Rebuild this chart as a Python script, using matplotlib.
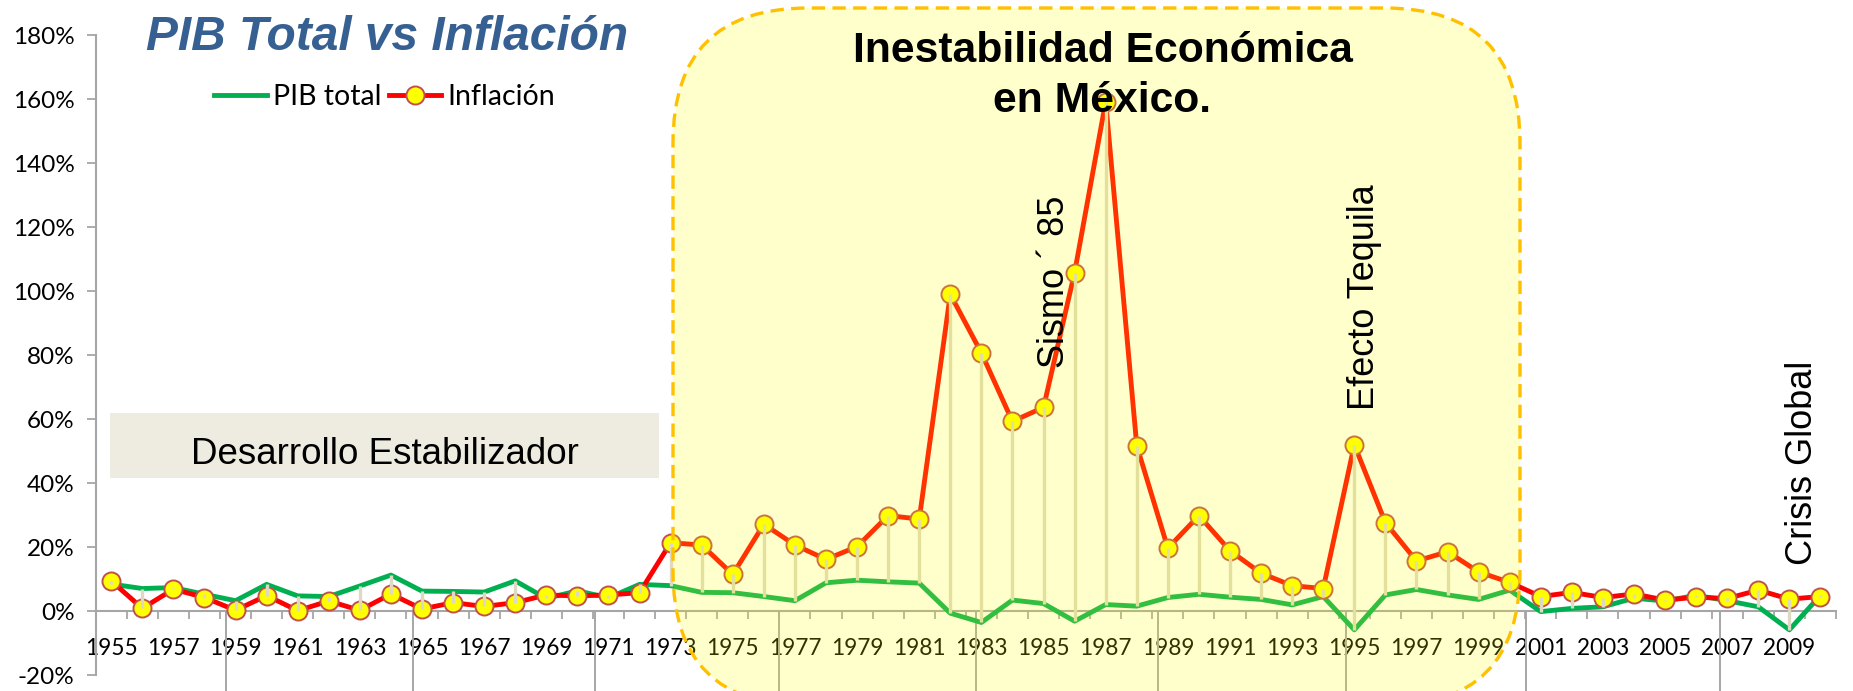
import matplotlib
matplotlib.use('Agg')
import matplotlib.pyplot as plt
from matplotlib import font_manager as fm
from matplotlib.patches import FancyBboxPatch, Rectangle
from matplotlib.transforms import IdentityTransform
import numpy as np

# ---------------- data ----------------
years = list(range(1955, 2011))
pib_total = [8.5, 7.1, 7.4, 5.3, 3.3, 8.4, 4.8, 4.6, 7.9, 11.3,
             6.3, 6.2, 6.0, 9.5, 4.0, 6.4, 4.2, 8.4, 8.0, 5.9,
             5.8, 4.6, 3.3, 8.9, 9.7, 9.2, 8.8, -0.6, -3.5, 3.5,
             2.4, -3.1, 2.1, 1.6, 4.3, 5.3, 4.4, 3.7, 2.0, 4.6,
             -5.8, 5.1, 6.8, 5.1, 3.7, 6.6, -0.1, 0.9, 1.4, 4.1,
             3.2, 5.0, 3.3, 1.4, -5.8, 5.0]
inflacion = [9.5, 0.9, 6.9, 4.3, 0.3, 4.9, 0.2, 3.2, 0.3, 5.4,
             0.7, 2.7, 1.5, 2.7, 5.1, 4.8, 5.1, 5.8, 21.4, 20.7,
             11.5, 27.2, 20.7, 16.2, 20.2, 29.9, 28.8, 99.0, 80.7, 59.3,
             63.7, 105.8, 159.2, 51.7, 19.7, 29.9, 18.9, 11.9, 8.0, 7.1,
             52.0, 27.7, 15.7, 18.6, 12.3, 9.0, 4.6, 5.9, 4.3, 5.4,
             3.5, 4.4, 4.0, 6.6, 3.8, 4.6]
xtick_years = list(range(1955, 2010, 2))
ytick_values = [-20, 0, 20, 40, 60, 80, 100, 120, 140, 160, 180]
ytick_labels = ['-20%', '0%', '20%', '40%', '60%', '80%', '100%',
                '120%', '140%', '160%', '180%']
series_names = ['PIB total', 'Inflación']
title_text = 'PIB Total vs Inflación'
band_title = ['Inestabilidad Económica', 'en México.']
events = ['Sismo \u00b4 85', 'Efecto Tequila', 'Crisis Global']
period_label = 'Desarrollo Estabilizador'

assert len(pib_total) == len(years) == len(inflacion)

# ---------------- fonts ----------------
names = {f.name for f in fm.fontManager.ttflist}
NARROW = 'Liberation Sans Narrow' in names
ARIAL = 'Liberation Sans'
CAL = 'Lato' if 'Lato' in names else 'DejaVu Sans'
plt.rcParams['font.family'] = [CAL, 'DejaVu Sans']

W, H = 1853, 691
fig = plt.figure(figsize=(W / 100, H / 100), dpi=100)
fig.patch.set_facecolor('white')

ax_l, ax_r, ax_t, ax_b = 95.7, 1836.0, 35.0, 675.3
ax = fig.add_axes([ax_l / W, 1 - ax_b / H, (ax_r - ax_l) / W, (ax_b - ax_t) / H])
ax.set_facecolor('white')

yrs = np.array(years, dtype=float)
pib = np.array(pib_total) / 100.0
inf = np.array(inflacion) / 100.0

axis_gray = '#A6A6A6'

ax.plot(yrs, pib, color='#00B050', lw=3.5, zorder=3, label=series_names[0])
ax.plot(yrs, inf, color='#FF0000', lw=3.5, zorder=4, marker='o', ms=13,
        mfc='#FFFF00', mec='#C0504D', mew=1.4, label=series_names[1])
ax.vlines(yrs, np.minimum(pib, inf), np.maximum(pib, inf),
          color='#DDD9C3', lw=2.4, zorder=6)

ax.set_xlim(1954.5, 2010.5)
ax.set_ylim(-0.2, 1.8)

for s in ['top', 'right']:
    ax.spines[s].set_visible(False)
ax.spines['left'].set_color(axis_gray)
ax.spines['left'].set_linewidth(1.5)
ax.spines['bottom'].set_position(('data', 0))
ax.spines['bottom'].set_color(axis_gray)
ax.spines['bottom'].set_linewidth(1.5)

ax.set_yticks([v / 100 for v in ytick_values])
ax.set_yticklabels(ytick_labels)
ax.tick_params(axis='y', direction='out', length=6.3, width=1.3, color=axis_gray,
               pad=9, labelsize=17.5)

ax.set_xticks(xtick_years)
ax.set_xticklabels([str(y) for y in xtick_years])
ax.set_xticks(np.arange(1954.5, 2011, 1.0), minor=True)
ax.tick_params(axis='x', which='major', length=0, pad=19, labelsize=16.3)
ax.tick_params(axis='x', which='minor', direction='out', length=5.8, width=1.3,
               color=axis_gray)

# long category separators below the axis
sep_positions = [1958.68, 1964.7, 1970.56, 1976.5, 1982.82, 1988.67, 1994.72,
                 2000.51, 2006.77]
ax.vlines(sep_positions, -0.26, 0, color=axis_gray, lw=1.4, clip_on=False, zorder=2)

# legend
leg = ax.legend(loc='center', bbox_to_anchor=(0.166, 0.903), ncol=2, frameon=False,
                fontsize=20.5, handlelength=1.85, handletextpad=0.22,
                columnspacing=0.25)

# period box
fig.add_artist(Rectangle((110 / W, 1 - 478 / H), (659 - 110) / W, (478 - 413) / H,
                         transform=fig.transFigure, facecolor='#EEECE1',
                         edgecolor='none', zorder=1))
fig.text(384.5 / W, 1 - 464.5 / H, period_label, ha='center', va='baseline',
         fontsize=26.5, family=ARIAL, color='black', zorder=1.5)

# yellow overlay band
bx0, bx1, btop, bbot = 673, 1520, 8, 706
fig.add_artist(FancyBboxPatch((bx0, H - bbot), bx1 - bx0, bbot - btop,
                              boxstyle='round,pad=0,rounding_size=135',
                              transform=IdentityTransform(),
                              facecolor=(1, 1, 0, 0.2), edgecolor='none', zorder=2))
fig.add_artist(FancyBboxPatch((bx0, H - bbot), bx1 - bx0, bbot - btop,
                              boxstyle='round,pad=0,rounding_size=135',
                              transform=IdentityTransform(),
                              facecolor='none', edgecolor='#FFC000', lw=2.4,
                              linestyle=(0, (4, 2.2)), zorder=2.1))

# title
if NARROW:
    tfam, tsize, bsize = 'Liberation Sans Narrow', 42, 37
else:
    tfam, tsize, bsize = ARIAL, 34.5, 30.7
fig.text(387 / W, 1 - 49.6 / H, title_text, ha='center', va='baseline',
         fontsize=tsize, family=tfam, fontweight='bold', fontstyle='italic',
         color='#376092', zorder=5)
fig.text(1103 / W, 1 - 61.5 / H, band_title[0], ha='center', va='baseline',
         fontsize=bsize, family=tfam, fontweight='bold', color='black', zorder=5)
fig.text(1102 / W, 1 - 112 / H, band_title[1], ha='center', va='baseline',
         fontsize=bsize, family=tfam, fontweight='bold', color='black', zorder=5)

# events
ev_pos = [(1055, 282), (1365, 297), (1802, 463)]
for txt, (px, py) in zip(events, ev_pos):
    fig.text(px / W, 1 - py / H, txt, rotation=90, ha='center', va='center',
             fontsize=26, family=ARIAL, color='black', zorder=5)

fig.savefig('out.png', dpi=100)
